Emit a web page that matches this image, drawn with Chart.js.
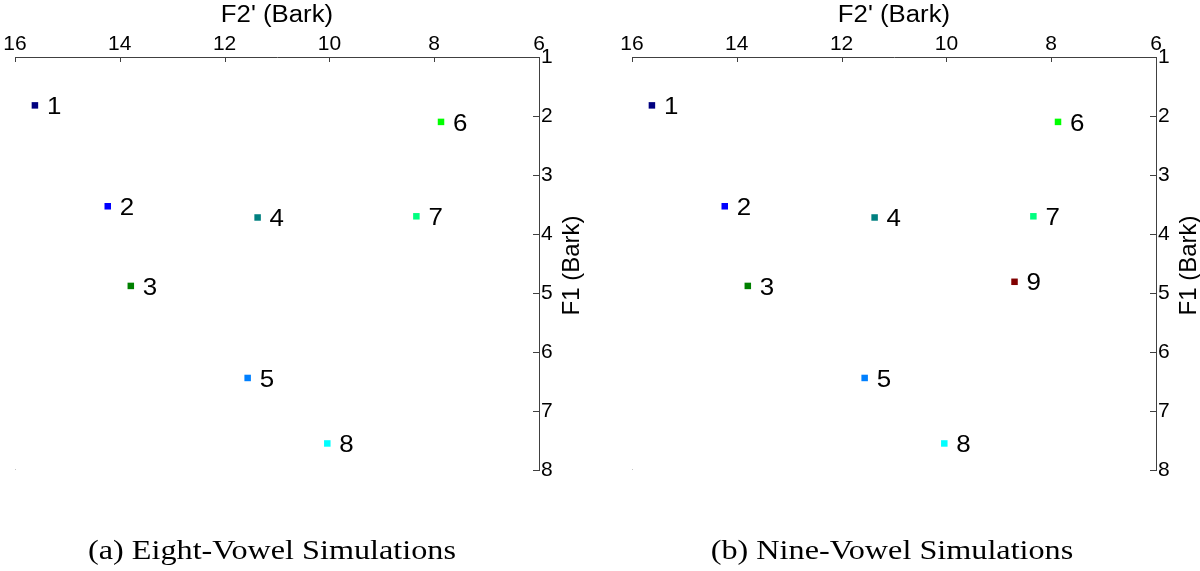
<!DOCTYPE html>
<html>
<head>
<meta charset="utf-8">
<script src="https://cdn.jsdelivr.net/npm/chart.js@4.4.1/dist/chart.umd.min.js"></script>
<style>
  body { margin: 0; background: #fff; width: 1200px; height: 571px; position: relative; overflow: hidden; }
  .panel { position: absolute; top: 0; width: 600px; height: 571px; }
  .caption { position: absolute; top: 536px; width: 600px; text-align: center; font-family: "Liberation Serif", "Times New Roman", serif; font-size: 28px; line-height: 28px; color: #000; transform: scaleX(1.15); white-space: nowrap; }
</style>
</head>
<body>
<canvas id="eight" class="panel" style="left:0" width="600" height="571"></canvas>
<canvas id="nine" class="panel" style="left:600px" width="600" height="571"></canvas>
<div class="caption" style="left:-28px">(a) Eight-Vowel Simulations</div>
<div class="caption" style="left:592px">(b) Nine-Vowel Simulations</div>
<script>
// vowel labels and positions (Bark)
const vowelIds = ['1', '2', '3', '4', '5', '6', '7', '8', '9'];
const vowelColors = ['#000080', '#0000ff', '#008000', '#008080', '#0080ff', '#00ff00', '#00ff80', '#00ffff', '#800000'];
const f2Eight = [15.62, 14.23, 13.79, 11.37, 11.56, 7.87, 8.34, 10.04];
const f1Eight = [1.82, 3.53, 4.88, 3.72, 6.44, 2.10, 3.70, 7.55];
const f2Nine = [15.62, 14.23, 13.79, 11.37, 11.56, 7.87, 8.34, 10.04, 8.70];
const f1Nine = [1.82, 3.53, 4.88, 3.72, 6.44, 2.10, 3.70, 7.55, 4.81];
const f2Ticks = [16, 14, 12, 10, 8, 6];
const f1Ticks = [1, 2, 3, 4, 5, 6, 7, 8];

const axisColor = '#404040';
const sans = '"Liberation Sans", Arial, sans-serif';
const font = { family: sans, size: 21 };

// draw text squeezed/stretched horizontally like the original figure
function stretchText(ctx, text, x, y, sx) {
  ctx.save();
  ctx.translate(x, y);
  ctx.scale(sx, 1);
  ctx.fillText(text, 0, 0);
  ctx.restore();
}

// inward tick marks, point numbers and axis titles
const panelDecor = {
  id: 'panelDecor',
  afterDraw(chart) {
    const { ctx, chartArea, scales } = chart;
    ctx.save();
    ctx.strokeStyle = axisColor;
    ctx.lineWidth = 1;
    ctx.beginPath();
    scales.x.ticks.forEach(t => {
      const px = Math.round(scales.x.getPixelForValue(t.value)) + 0.5;
      ctx.moveTo(px, chartArea.top);
      ctx.lineTo(px, chartArea.top + 5);
    });
    scales.y.ticks.forEach(t => {
      const py = Math.round(scales.y.getPixelForValue(t.value)) + 0.5;
      ctx.moveTo(chartArea.right - 6, py);
      ctx.lineTo(chartArea.right, py);
    });
    ctx.stroke();

    ctx.fillStyle = '#000';
    ctx.font = '24px ' + sans;
    ctx.textBaseline = 'middle';
    ctx.textAlign = 'left';
    chart.getDatasetMeta(0).data.forEach((pt, i) => {
      stretchText(ctx, vowelIds[i], pt.x + 12, pt.y + 2, 1.08);
    });

    ctx.textAlign = 'center';
    ctx.font = '23px ' + sans;
    stretchText(ctx, "F2' (Bark)", (chartArea.left + chartArea.right) / 2, 16, 1.12);
    ctx.font = '24px ' + sans;
    ctx.translate(chartArea.right + 33, (chartArea.top + chartArea.bottom) / 2 + 2);
    ctx.rotate(-Math.PI / 2);
    ctx.fillText('F1 (Bark)', 0, 0);
    ctx.restore();
  }
};

function makePanel(id, f2, f1, padLeft) {
  const points = f2.map((v, i) => ({ x: v, y: f1[i] }));
  return new Chart(document.getElementById(id), {
    type: 'scatter',
    data: {
      datasets: [{
        data: points,
        pointStyle: 'rect',
        pointRadius: 4.6,
        borderWidth: 0,
        backgroundColor: vowelColors.slice(0, points.length)
      }, {
        // faint corner mark seen in the original
        data: [{ x: 16, y: 8 }],
        pointRadius: 1,
        borderWidth: 0,
        backgroundColor: '#b0b0b0'
      }]
    },
    options: {
      responsive: false,
      animation: false,
      layout: { padding: { left: padLeft, right: 0, top: 0, bottom: 101 } },
      plugins: { legend: { display: false }, tooltip: { enabled: false } },
      scales: {
        x: {
          type: 'linear', position: 'top', min: 6, max: 16, reverse: true,
          afterBuildTicks: s => { s.ticks = f2Ticks.map(v => ({ value: v })); },
          ticks: { font, color: '#000', padding: 0, maxRotation: 0 },
          grid: { display: false, drawTicks: false },
          border: { display: true, color: axisColor },
          afterFit: s => { s.height = 57; }
        },
        y: {
          type: 'linear', position: 'right', min: 1, max: 8, reverse: true,
          afterBuildTicks: s => { s.ticks = f1Ticks.map(v => ({ value: v })); },
          ticks: { font, color: '#000', padding: 2 },
          grid: { display: false, drawTicks: false },
          border: { display: true, color: axisColor },
          afterFit: s => { s.width = 600 - 539 - (padLeft - 15); }
        }
      }
    },
    plugins: [panelDecor]
  });
}

makePanel('eight', f2Eight, f1Eight, 15);
makePanel('nine', f2Nine, f1Nine, 32);
</script>
</body>
</html>
